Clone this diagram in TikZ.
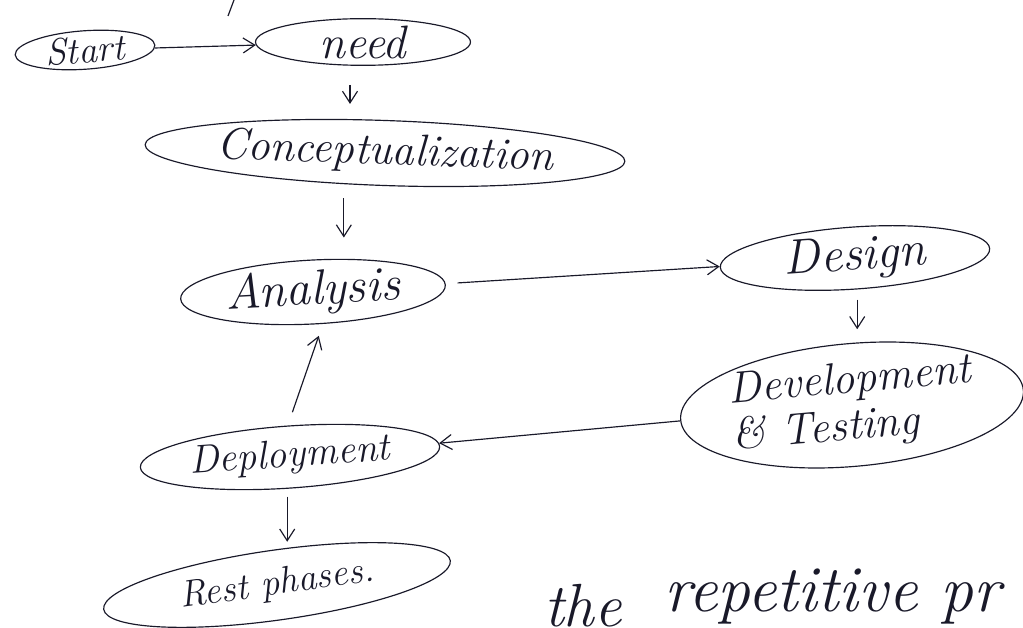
\documentclass[tikz,border=0pt]{standalone}
\usetikzlibrary{shapes.geometric,arrows.meta}
\definecolor{ink}{rgb}{0.10,0.10,0.16}
\begin{document}
\begin{tikzpicture}[x=0.03cm,y=-0.03cm,
  phase/.style={ellipse,draw=ink,line width=1pt,inner sep=0pt,text=ink,font=\itshape},
  flow/.style={draw=ink,line width=1pt,-{Straight Barb[length=3.5mm,width=4.5mm]}}]
\useasboundingbox (0,0) rectangle (1023,628);
\node[phase,minimum width=140*0.03cm,minimum height=36*0.03cm,font=\itshape\fontsize{32}{34}\selectfont,rotate=4] (start) at (85,50) {Start};
\node[phase,minimum width=215*0.03cm,minimum height=42*0.03cm,font=\itshape\fontsize{40}{44}\selectfont] (need) at (363,42) {need};
\node[phase,minimum width=480*0.03cm,minimum height=65*0.03cm,font=\itshape\fontsize{38}{40}\selectfont,rotate=-2] (concept) at (385,153) {Conceptualization};
\node[phase,minimum width=265*0.03cm,minimum height=60*0.03cm,font=\itshape\fontsize{42}{44}\selectfont,rotate=3] (analysis) at (313,292) {Analysis};
\node[phase,minimum width=270*0.03cm,minimum height=62*0.03cm,font=\itshape\fontsize{42}{44}\selectfont,rotate=4] (design) at (855,258) {Design};
\node[phase,minimum width=338*0.03cm,minimum height=98*0.03cm,align=left,font=\itshape\fontsize{38}{40}\selectfont,rotate=5] (dev) at (852,405) {Development\\\& Testing};
\node[phase,minimum width=300*0.03cm,minimum height=62*0.03cm,font=\itshape\fontsize{34}{38}\selectfont,rotate=4] (deploy) at (290,457) {Deployment};
\node[phase,minimum width=350*0.03cm,minimum height=70*0.03cm,font=\itshape\fontsize{32}{36}\selectfont,rotate=8] (rest) at (277,585) {Rest phases.};
\node[text=ink,font=\itshape\fontsize{52}{56}\selectfont,anchor=base west] (the) at (540,626) {the};
\node[text=ink,font=\itshape\fontsize{56}{60}\selectfont,anchor=base west] (rep) at (660,612) {repetitive pr};
\coordinate (t1) at (234,0);
\coordinate (t2) at (228,16);
\draw[ink,line width=1pt] (t1) -- (t2);
\draw[flow] (start) -- (need);
\draw[flow,shorten <=19*0.03cm,shorten >=16*0.03cm] ([xshift=-13*0.03cm]need.south) -- ([xshift=-13*0.03cm]need.south |- concept.north);
\draw[flow,shorten <=12*0.03cm,shorten >=22*0.03cm] ([xshift=-40*0.03cm]concept.south) -- ([xshift=-40*0.03cm]concept.south |- analysis.north);
\draw[flow,shorten <=12*0.03cm] (analysis) -- (design);
\draw[flow,shorten <=10*0.03cm,shorten >=14*0.03cm] (design.south) -- (design.south |- dev.north);
\draw[flow] (dev) -- (deploy);
\draw[flow,shorten <=14*0.03cm,shorten >=12*0.03cm] (deploy.north) -- ([xshift=8*0.03cm]analysis.south);
\draw[flow,shorten <=8*0.03cm,shorten >=8*0.03cm] ([xshift=-5*0.03cm]deploy.south) -- ([xshift=-5*0.03cm]deploy.south |- rest.north);
\end{tikzpicture}
\end{document}
